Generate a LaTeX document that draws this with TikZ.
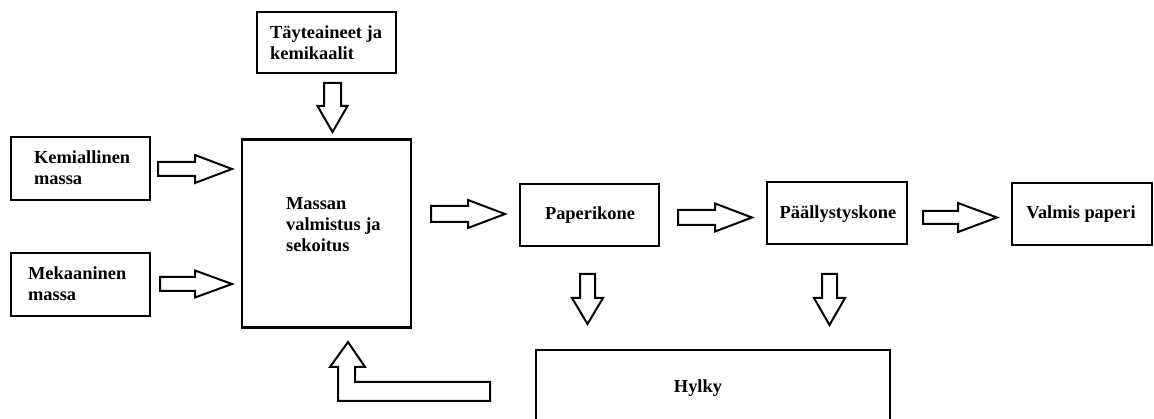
\documentclass[tikz,border=0pt]{standalone}
\usepackage{fontspec}
\setmainfont{Liberation Serif}
\usetikzlibrary{calc}
\tikzset{
  box/.style={draw=black, line width=2.2pt, rectangle, inner sep=0pt},
  lbl/.style={font=\fontsize{18.4}{21}\selectfont\bfseries, align=left, inner sep=0pt, text=black},
  blk/.style={draw=black, line width=2pt, line join=miter, fill=white},
}
% horizontal block arrow: tail x, shaft end x, tip x, centre y, shaft half, head half
\newcommand{\HArrow}[6]{\draw[blk] (#1,#4-#5) -- (#2,#4-#5) -- (#2,#4-#6) -- (#3,#4) -- (#2,#4+#6) -- (#2,#4+#5) -- (#1,#4+#5) -- cycle;}
% vertical (down) block arrow: centre x, tail y, shaft end y, tip y, shaft half, head half
\newcommand{\VArrow}[6]{\draw[blk] (#1-#5,#2) -- (#1-#5,#3) -- (#1-#6,#3) -- (#1,#4) -- (#1+#6,#3) -- (#1+#5,#3) -- (#1+#5,#2) -- cycle;}
\begin{document}
\begin{tikzpicture}[x=1pt,y=-1pt]
\useasboundingbox (0,0) rectangle (1154,419);

% boxes
\node[box, minimum width=139pt, minimum height=61pt] (tay) at (326.5,42.5) {};
\node[box, minimum width=139pt, minimum height=63pt] (kem) at (80.5,168.5) {};
\node[box, minimum width=139pt, minimum height=63pt] (mek) at (80.5,284.5) {};
\node[box, minimum width=169pt, minimum height=188pt] (mas) at (326.5,233.5) {};
\node[box, minimum width=139pt, minimum height=62pt] (pap) at (589.5,215) {};
\node[box, minimum width=140pt, minimum height=62pt] (paa) at (837,213) {};
\node[box, minimum width=140pt, minimum height=62pt] (val) at (1082,214) {};
\node[inner sep=0pt, minimum width=354pt, minimum height=69pt] (hyl) at (713,384.5) {};
\draw[line width=2.2pt] (hyl.south west) -- (hyl.north west) -- (hyl.north east) -- (hyl.south east);

% labels
\node[lbl, anchor=west] (taylbl) at ([xshift=14pt]tay.west) {Täyteaineet ja\\kemikaalit};
\node[lbl, anchor=west] (kemlbl) at ([xshift=24pt,yshift=0.5pt]kem.west) {Kemiallinen\\massa};
\node[lbl, anchor=west] (meklbl) at ([xshift=18pt,yshift=1pt]mek.west) {Mekaaninen\\massa};
\node[lbl, anchor=west] (maslbl) at ([xshift=45pt,yshift=9pt]mas.west) {Massan\\valmistus ja\\sekoitus};
\node[lbl, anchor=base] (paplbl) at (590,220) {Paperikone};
\node[lbl, anchor=base] (paalbl) at (838,219) {Päällystyskone};
\node[lbl, anchor=base] (vallbl) at (1081,219) {Valmis paperi};
\node[lbl, anchor=base] (hyllbl) at (698,393) {Hylky};

% block arrows
\VArrow{332.5}{83}{106}{132}{8.5}{15}
\HArrow{158}{195}{232}{169}{7}{14}
\HArrow{160}{195}{232}{284}{7}{13.5}
\HArrow{431}{468}{505}{214}{8}{14}
\HArrow{678}{715}{752}{217.5}{7.5}{14}
\HArrow{923}{958}{997}{217.5}{6.5}{14.5}
\VArrow{587.5}{274}{298}{324}{7.5}{15.5}
\VArrow{829.5}{274}{298}{325}{7.5}{15.5}
% feedback arrow from Hylky to Massan
\draw[blk] (490,382) -- (355,382) -- (355,367) -- (365,367) -- (348,342) -- (330,367) -- (338,367) -- (338,401) -- (490,401) -- cycle;
\end{tikzpicture}
\end{document}
